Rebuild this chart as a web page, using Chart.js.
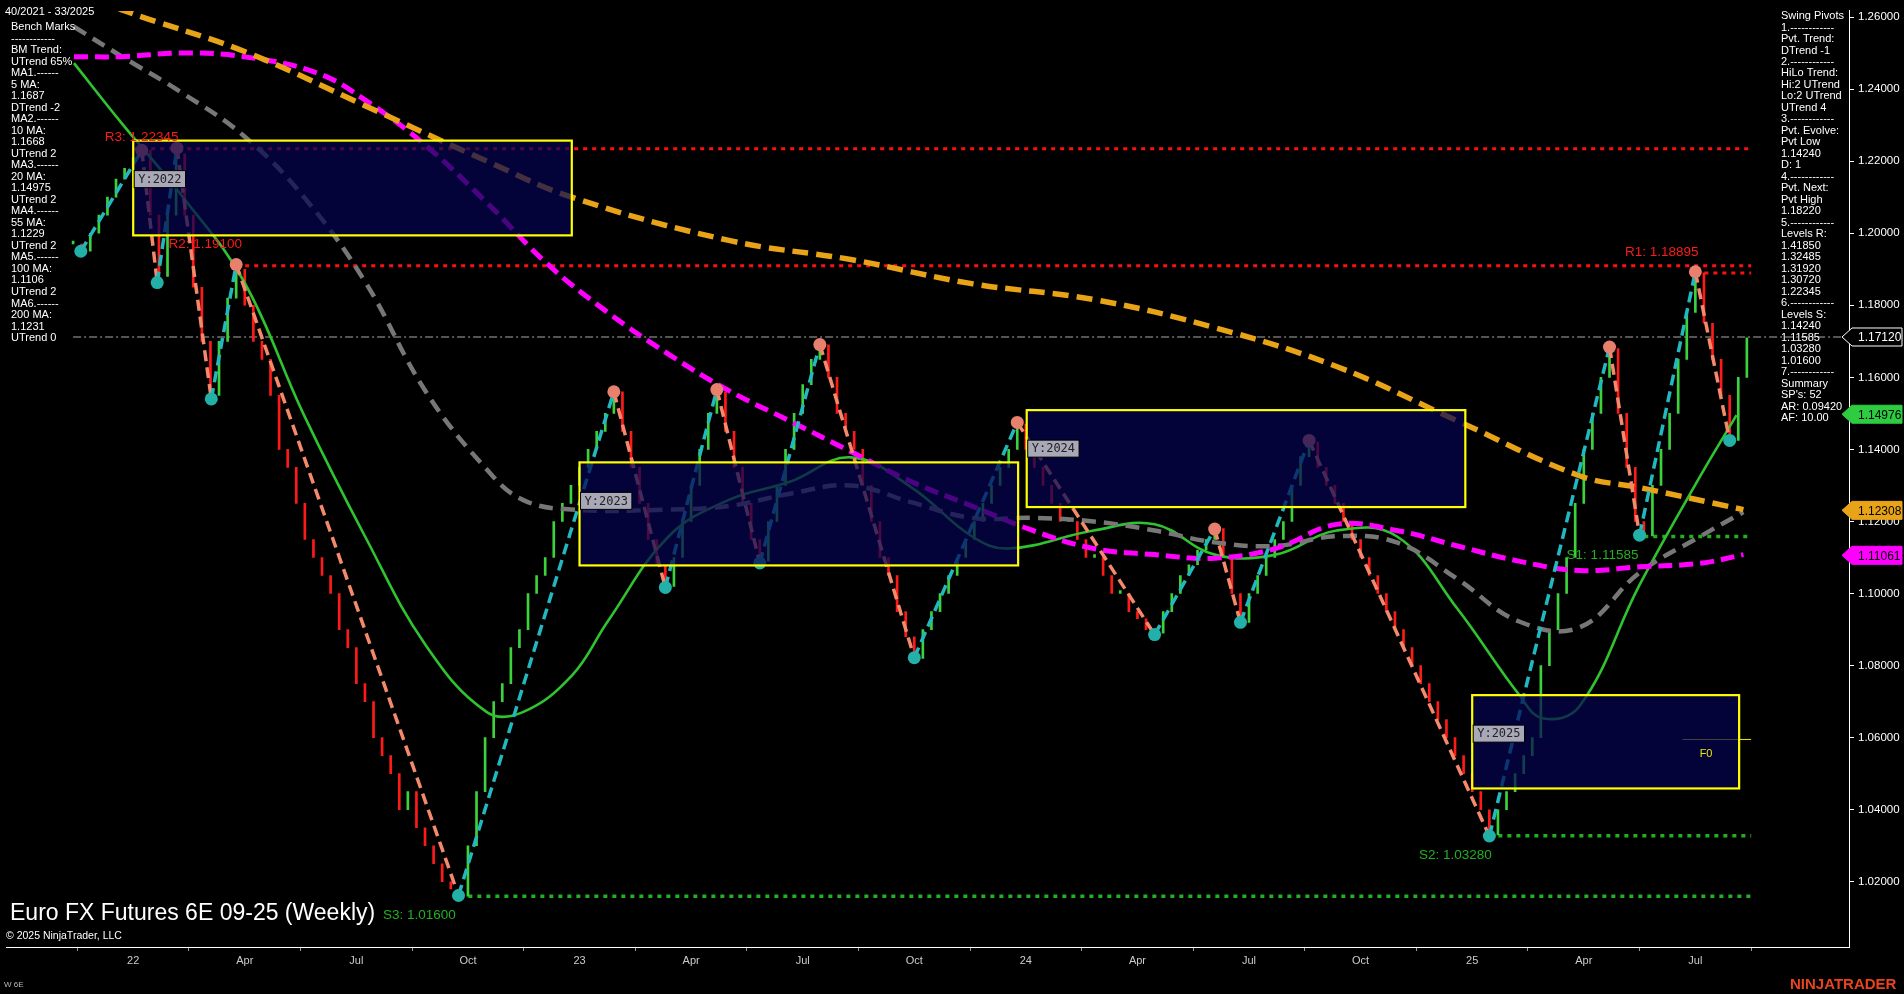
<!DOCTYPE html>
<html><head><meta charset="utf-8">
<script src="https://cdn.jsdelivr.net/npm/chart.js@4.4.1/dist/chart.umd.min.js"></script>
<style>html,body{margin:0;padding:0;background:#000;overflow:hidden}canvas{display:block}</style>
</head><body><canvas id="c" width="1904" height="994"></canvas>
<script>
// Weeks counted from first week of 2022 (=0)
const firstWeek = -7;
const closes = [1.197,1.195,
1.20,1.205,1.21,1.215,1.218,1.221,1.223,
1.205,1.188,1.205,1.222,
1.205,1.185,1.17,1.155,1.17,1.182,1.19,
1.18,1.17,1.165,1.155,1.14,1.135,1.125,1.115,1.11,1.105,1.1,1.09,1.085,1.075,1.07,1.06,1.055,1.05,1.04,1.045,1.035,1.03,1.025,1.02,1.018,1.016,
1.03,1.045,1.06,1.07,1.075,1.085,1.09,1.1,1.105,1.11,1.12,1.125,1.13,1.135,1.14,1.145,1.15,1.156,
1.145,1.135,1.125,1.115,1.108,1.102,
1.11,1.12,1.13,1.14,1.15,1.156,
1.145,1.135,1.125,1.115,1.109,
1.12,1.13,1.14,1.15,1.158,1.165,1.169,
1.16,1.15,1.145,1.14,1.13,1.12,1.11,1.105,1.095,1.088,1.082,
1.09,1.095,1.1,1.105,1.11,1.115,1.12,1.125,1.13,1.135,1.14,1.147,
1.14,1.135,1.13,1.125,1.12,1.12,1.115,1.11,1.11,1.105,1.1,1.1,1.095,1.093,1.09,1.089,
1.095,1.1,1.105,1.108,1.112,1.115,1.118,
1.11,1.1,1.092,
1.1,1.105,1.11,1.115,1.12,1.13,1.138,1.142,
1.135,1.13,1.125,1.12,1.115,1.11,1.105,1.1,1.095,1.09,1.085,1.08,1.075,1.07,1.065,1.06,1.055,1.05,1.045,1.04,1.033,
1.04,1.045,1.05,1.055,1.06,1.08,1.09,1.1,1.11,1.125,1.14,1.15,1.16,1.168,
1.15,1.135,1.12,1.116,
1.13,1.14,1.15,1.165,1.178,1.189,
1.175,1.165,1.155,1.1425,1.16,1.171];

const pivotWeeks = [-6.1,1,2.8,5.1,9.1,12,37.9,56,62,68,73,80,91,103,119,126,129,137,158,172,175.5,182,186];
const pivotPrices = [1.195,1.223,1.1863,1.2236,1.154,1.1913,1.0162,1.156,1.1017,1.1566,1.1085,1.1691,1.0822,1.1475,1.0886,1.1179,1.092,1.1425,1.0327,1.1684,1.1162,1.1893,1.1425];

const ma200W = [-6.9,-1.3,12.9,27,41.2,51.1,69.4,83.6,97.7,111.9,126,140.2,154.3,168.5,175.5,187.6];
const ma200V = [1.268,1.262,1.2505,1.2354,1.220,1.210,1.198,1.1927,1.186,1.1816,1.1738,1.163,1.1479,1.1327,1.1294,1.1233];
const ma100W = [-6.9,-1.3,5.8,12.9,21.4,27,34.1,41.2,48.2,55.3,62.4,69.4,76.5,83.6,90.7,97.7,104.8,111.9,119,126,133.1,140.2,147.2,154.3,161.4,168.5,175.5,182.6,187.6];
const ma100V = [1.249,1.249,1.250,1.249,1.2445,1.237,1.2243,1.2085,1.1916,1.178,1.1664,1.1563,1.1479,1.1394,1.131,1.1243,1.1175,1.1125,1.1108,1.1098,1.1125,1.1192,1.1175,1.1132,1.109,1.1064,1.1074,1.1084,1.1108];
const ma55W = [-6.9,-1.3,5.8,12.9,19.9,27,34.1,41.2,45.4,51.1,62.4,69.4,76.5,83.6,90.7,97.7,104.8,111.9,119,126,133.1,140.2,147.2,154.3,161.4,168.5,175.5,182.6,187.6];
const ma55V = [1.2573,1.249,1.2388,1.227,1.210,1.1866,1.156,1.1344,1.126,1.1233,1.1233,1.1243,1.1277,1.130,1.1253,1.121,1.121,1.120,1.1175,1.1142,1.1132,1.1159,1.1142,1.104,1.0923,1.0906,1.1058,1.1159,1.1226];
const ma20W = [-6.9,-1.3,5.8,12.9,19.9,27,34.1,41.2,45.4,51.1,55.3,62.4,69.4,76.5,83.6,90.7,97.7,102,111.9,119,126,133.1,140.2,147.2,154.3,161.4,164.2,168.5,175.5,182.6,186.8];
const ma20V = [1.2472,1.2304,1.210,1.1866,1.1495,1.1159,1.0856,1.0671,1.0671,1.0772,1.0923,1.1159,1.126,1.131,1.1378,1.1294,1.1159,1.1125,1.1175,1.1192,1.1108,1.1108,1.1175,1.1159,1.0957,1.0721,1.0654,1.0687,1.1024,1.1327,1.1495];

const levelNames = ['R3','R2','R1','S1','S2','S3'];
const levelValues = [1.22345,1.19100,1.18895,1.11585,1.03280,1.01600];
const levelStartWeeks = [0,12,182,175,158,38];
const lastPriceLine = 1.17120;

const yearBoxNames = ['Y:2022','Y:2023','Y:2024','Y:2025'];
const yearBoxWeeks = [[0,51.1],[52,103.1],[104.1,155.2],[156,187.1]];
const yearBoxPrices = [[1.2257,1.1994],[1.1364,1.1078],[1.1509,1.124],[1.0718,1.0459]];

const xTickWeeks = [0,13,26,39,52,65,78,91,104,117,130,143,156,169,182];
const xTickLabels = ['22','Apr','Jul','Oct','23','Apr','Jul','Oct','24','Apr','Jul','Oct','25','Apr','Jul'];
const yTicks = [1.02,1.04,1.06,1.08,1.10,1.12,1.14,1.16,1.18,1.20,1.22,1.24,1.26];

const leftPanel = ['Bench Marks','------------','BM Trend:','UTrend 65%','MA1.------','5 MA:','1.1687','DTrend -2','MA2.------','10 MA:','1.1668','UTrend 2','MA3.------','20 MA:','1.14975','UTrend 2','MA4.------','55 MA:','1.1229','UTrend 2','MA5.------','100 MA:','1.1106','UTrend 2','MA6.------','200 MA:','1.1231','UTrend 0'];
const rightPanel = ['Swing Pivots','1.------------','Pvt. Trend:','DTrend -1','2.------------','HiLo Trend:','Hi:2 UTrend','Lo:2 UTrend','UTrend 4','3.------------','Pvt. Evolve:','Pvt Low','1.14240','D: 1','4.------------','Pvt. Next:','Pvt High','1.18220','5.------------','Levels R:','1.41850','1.32485','1.31920','1.30720','1.22345','6.------------','Levels S:','1.14240','1.11585','1.03280','1.01600','7.------------','Summary',"SP's: 52",'AR: 0.09420','AF: 10.00'];

const priceTags = [[1.17120,'#000','#fff','#fff'],[1.14976,'#2ecc40','#2ecc40','#000'],[1.12308,'#e8a317','#e8a317','#000'],[1.11061,'#ff00ff','#ff00ff','#000']];

const FONT = '"Liberation Sans", Arial, sans-serif';

const bars = closes.map((c,i)=>{const o = i>0?closes[i-1]:c; return {x:firstWeek+i, y:[o,c]};});
const barColors = closes.map((c,i)=> (i>0 && c<closes[i-1]) ? '#ff1a1a' : '#3cd23c');
const pts = (w,v)=>w.map((x,i)=>({x, y:v[i]}));

const overlay = {
  id:'overlay',
  beforeDatasetsDraw(chart){
    const {ctx, scales:{x,y}, chartArea:a} = chart;
    ctx.save();
    ctx.strokeStyle='#aaa'; ctx.lineWidth=1.2; ctx.setLineDash([8,3,2,3]);
    ctx.beginPath(); ctx.moveTo(x.getPixelForValue(-7),y.getPixelForValue(lastPriceLine)); ctx.lineTo(a.right,y.getPixelForValue(lastPriceLine)); ctx.stroke();
    levelNames.forEach((n,i)=>{
      const isR = n[0]==='R';
      ctx.strokeStyle = isR?'#ff1010':'#22b022';
      ctx.lineWidth = isR?3:3.5; ctx.setLineDash([4,5]);
      const yy=y.getPixelForValue(levelValues[i]);
      ctx.beginPath(); ctx.moveTo(x.getPixelForValue(levelStartWeeks[i]),yy); ctx.lineTo(x.getPixelForValue(188.5),yy); ctx.stroke();
    });
    ctx.setLineDash([]); ctx.strokeStyle='#e8e800'; ctx.lineWidth=1;
    ctx.beginPath(); ctx.moveTo(x.getPixelForValue(180.5),y.getPixelForValue(1.0595)); ctx.lineTo(x.getPixelForValue(188.5),y.getPixelForValue(1.0595)); ctx.stroke();
    ctx.restore();
  },
  afterDatasetsDraw(chart){
    const {ctx, scales:{x,y}, chartArea:a} = chart;
    ctx.save();
    yearBoxNames.forEach((n,i)=>{
      const x0=x.getPixelForValue(yearBoxWeeks[i][0]), x1=x.getPixelForValue(yearBoxWeeks[i][1]);
      const y0=y.getPixelForValue(yearBoxPrices[i][0]), y1=y.getPixelForValue(yearBoxPrices[i][1]);
      ctx.fillStyle='rgba(4,4,80,0.72)'; ctx.fillRect(x0,y0,x1-x0,y1-y0);
      ctx.strokeStyle='#ffff00'; ctx.lineWidth=2.2; ctx.strokeRect(x0,y0,x1-x0,y1-y0);
      ctx.font='12px "DejaVu Sans Mono", monospace';
      const tw=ctx.measureText(n).width+8;
      const ty=y0+38;
      ctx.fillStyle='#a8a8b8'; ctx.fillRect(x0+1,ty-8,tw,17);
      ctx.strokeStyle='#000'; ctx.lineWidth=1; ctx.strokeRect(x0+1,ty-8,tw,17);
      ctx.fillStyle='#222'; ctx.textBaseline='middle'; ctx.fillText(n,x0+5,ty+1);
    });
    const lbl=[[-3.3,1.2266],[4.1,1.197],[173.8,1.1947],[167,1.1105],[149.8,1.0273],[29.1,1.0108]];
    ctx.font='13.5px '+FONT; ctx.textBaseline='middle';
    levelNames.forEach((n,i)=>{
      ctx.fillStyle = n[0]==='R'?'#ff1a1a':'#22b022';
      ctx.fillText(n+': '+levelValues[i].toFixed(5), x.getPixelForValue(lbl[i][0]), y.getPixelForValue(lbl[i][1]));
    });
    ctx.fillStyle='#e8e800'; ctx.font='11px '+FONT;
    ctx.fillText('F0', x.getPixelForValue(182.5), y.getPixelForValue(1.0555));
    ctx.fillStyle='#fff'; ctx.font='11px '+FONT;
    ctx.fillText('40/2021 - 33/2025',5,12);
    leftPanel.forEach((t,i)=>ctx.fillText(t,11,27+i*11.52));
    rightPanel.forEach((t,i)=>ctx.fillText(t,1781,16+i*11.49));
    ctx.font='23px '+FONT; ctx.fillStyle='#fff'; ctx.textBaseline='alphabetic';
    ctx.fillText('Euro FX Futures 6E 09-25 (Weekly)',10,920);
    ctx.font='10.5px '+FONT; ctx.fillText('\u00a9 2025 NinjaTrader, LLC',6,939);
    ctx.font='8px '+FONT; ctx.fillStyle='#bbb'; ctx.fillText('W 6E',4,987);
    ctx.font='bold 15px '+FONT; ctx.fillStyle='#e8431e'; ctx.fillText('NINJATRADER',1790,989);
    priceTags.forEach(([v,bg,bd,fg])=>{
      const yy=y.getPixelForValue(v), x0=a.right-7, x1=1902;
      ctx.beginPath(); ctx.moveTo(x0,yy); ctx.lineTo(x0+10,yy-9); ctx.lineTo(x1,yy-9); ctx.lineTo(x1,yy+9); ctx.lineTo(x0+10,yy+9); ctx.closePath();
      ctx.fillStyle=bg; ctx.fill(); ctx.strokeStyle=bd; ctx.lineWidth=1; ctx.stroke();
      ctx.fillStyle=fg; ctx.font='12px '+FONT; ctx.textBaseline='middle'; ctx.fillText(v.toFixed(5),1858,yy+1);
    });
    ctx.restore();
  }
};

new Chart(document.getElementById('c'),{
  data:{datasets:[
    {type:'bar', data:bars, backgroundColor:barColors, barThickness:2, minBarLength:3, order:6},
    {type:'line', data:pts(ma20W,ma20V), borderColor:'#2fc32f', borderWidth:2.6, pointRadius:0, tension:0.4, order:5},
    {type:'line', data:pts(ma55W,ma55V), borderColor:'#777', borderWidth:4.5, borderDash:[14,8], pointRadius:0, tension:0.4, order:4},
    {type:'line', data:pts(ma100W,ma100V), borderColor:'#ff00ff', borderWidth:5, borderDash:[14,7], pointRadius:0, tension:0.4, order:3},
    {type:'line', data:pts(ma200W,ma200V), borderColor:'#e8a317', borderWidth:5.5, borderDash:[16,8], pointRadius:0, tension:0.4, order:2},
    {type:'line', data:pts(pivotWeeks,pivotPrices), borderWidth:3.5, borderDash:[11,6], tension:0, order:1,
      segment:{borderColor:c=> c.p1.parsed.y>c.p0.parsed.y ? '#22b8c0' : '#f4896b'},
      pointRadius:6.5, pointBorderWidth:0,
      pointBackgroundColor:pivotPrices.map((p,i)=>{const prev=pivotPrices[i-1], next=pivotPrices[i+1]; const hi=(prev===undefined||p>prev)&&(next===undefined||p>next); return hi?'#e8806e':'#22b0a8';})}
  ]},
  options:{responsive:false, animation:false, devicePixelRatio:1,
    layout:{padding:0},
    plugins:{legend:{display:false}, tooltip:{enabled:false}},
    scales:{
      x:{type:'linear', min:-14.76, max:199.9, offset:false,
        afterBuildTicks:s=>{s.ticks=xTickWeeks.map(v=>({value:v}));},
        afterFit:s=>{s.height=47;},
        ticks:{color:'#ccc', font:{size:11,family:FONT}, autoSkip:false, maxRotation:0, callback:(v)=>xTickLabels[xTickWeeks.indexOf(v)]},
        grid:{drawOnChartArea:false, color:'#999', tickLength:4}, border:{color:'#fff'}},
      y:{position:'right', min:1.0019, max:1.2617,
        afterBuildTicks:s=>{s.ticks=yTicks.map(v=>({value:v}));},
        afterFit:s=>{s.width=55;},
        ticks:{color:'#fff', font:{size:11.5,family:FONT}, padding:4, callback:v=>v.toFixed(5)},
        grid:{drawOnChartArea:false, color:'#fff', tickLength:5}, border:{color:'#fff'}}
    }
  },
  plugins:[overlay]
});
</script></body></html>
